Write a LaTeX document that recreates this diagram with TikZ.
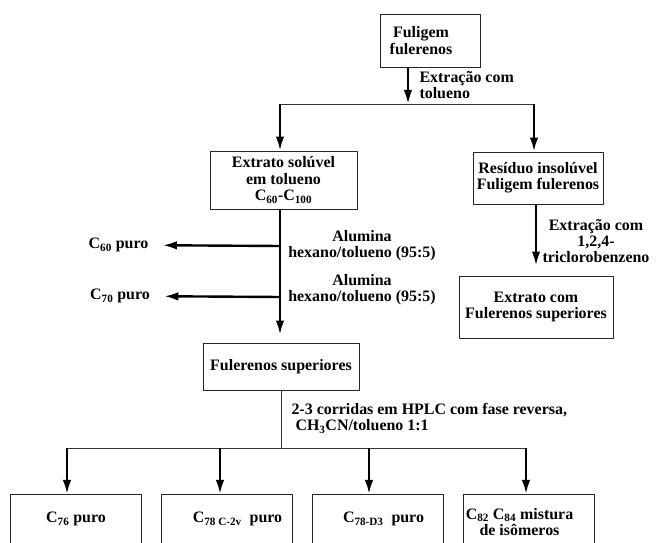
\documentclass[tikz,border=0pt]{standalone}
\usepackage{fontspec}
\setmainfont{Liberation Serif}
\usetikzlibrary{arrows.meta}
\begin{document}
\begin{tikzpicture}[>={Latex[length=14bp,width=8.5bp]},line join=bevel,
  every node/.style={font=\bfseries\fontsize{16}{16.5}\selectfont,align=center},
  procbox/.style={draw=black!85,line width=0.9bp,inner sep=0bp},
  endbox/.style={procbox,anchor=north,minimum width=131bp,inner ysep=0bp},
  heavy/.style={black,line width=2.4bp},
  thinline/.style={black!80,line width=0.9bp},]
\useasboundingbox (0bp,0bp) rectangle (656bp,543bp);
%%
\node (node_0) at (430bp,502.5bp) [procbox,minimum width=100bp,minimum height=53bp] {Fuligem\hspace*{18bp}\\fulerenos\hspace*{18bp}};
  \node (node_1) at (283.5bp,363bp) [procbox,minimum width=147bp,minimum height=58bp] {Extrato solúvel\\em tolueno\\C\textsubscript{60}-C\textsubscript{100}};
  \node (node_2) at (538bp,365bp) [procbox,minimum width=130bp,minimum height=52bp] {Resíduo insolúvel\\Fuligem fulerenos};
  \node (node_3) at (536bp,236bp) [procbox,minimum width=154bp,minimum height=62bp] {Extrato com\\Fulerenos superiores};
  \node (node_4) at (281bp,176.5bp) [procbox,minimum width=156bp,minimum height=47bp] {Fulerenos superiores};
  \node (node_5) at (76bp,49bp) [endbox,text height=28bp,text depth=38bp] {C\textsubscript{76} puro};
  \node (node_6) at (226.5bp,49bp) [endbox,text height=28bp,text depth=38bp] {\hspace*{22bp}C\textsubscript{78 C-2v}\ \ puro};
  \node (node_7) at (377.5bp,49bp) [endbox,text height=28bp,text depth=38bp] {\hspace*{12bp}C\textsubscript{78-D3}\ \ puro};
  \node (node_8) at (528.5bp,49bp) [endbox,text height=41bp,text depth=25bp] {C\textsubscript{82} C\textsubscript{84} mistura\hspace*{18bp}\\de isômeros\hspace*{18bp}};
  \node (c60) at (118.5bp,298bp) [draw=none] {C\textsubscript{60} puro};
  \node (c70) at (120bp,247bp) [draw=none] {C\textsubscript{70} puro};
%
  \node (lbl_0) at (416bp,458bp) [anchor=west,align=left] {Extração com\\tolueno};
  \node (lbl_1) at (362bp,297.5bp) [draw=none] {Alumina\\hexano/tolueno (95:5)};
  \node (lbl_2) at (362bp,253.5bp) [draw=none] {Alumina\\hexano/tolueno (95:5)};
  \node (lbl_3) at (596bp,302bp) [draw=none] {Extração com\\1,2,4-\\triclorobenzeno};
  \node (lbl_4) at (288bp,124.5bp) [anchor=west,align=left] {2-3 corridas em HPLC com fase reversa,\\\ CH\textsubscript{3}CN/tolueno 1:1};
%
  \coordinate (split_0) at (408bp,439bp);
  \coordinate (split_1) at (280bp,439bp);
  \coordinate (split_2) at (534bp,439bp);
  \coordinate (branch_0) at (280bp,297bp);
  \coordinate (branch_1) at (280bp,246bp);
  \coordinate (split_3) at (281bp,95bp);
  \coordinate (tap_0) at (67bp,95bp);
  \coordinate (tap_1) at (220bp,95bp);
  \coordinate (tap_2) at (369bp,95bp);
  \coordinate (tap_3) at (526bp,95bp);
%
  \draw [heavy,->] (node_0.south -| split_0) -- (split_0);
  \draw [thinline] (split_1) -- (split_2);
  \draw [heavy,->] (split_1) -- (split_1 |- node_1.north);
  \draw [heavy,->] (split_2) -- (split_2 |- node_2.north);
  \draw [heavy,->,shorten >=10bp] (node_3.north |- node_2.south) -- (node_3.north);
  \draw [heavy,->,shorten >=8bp] (split_1 |- node_1.south) -- (split_1 |- node_4.north);
  \draw [heavy,->,shorten >=11bp] (branch_0) -- (c60);
  \draw [heavy,->,shorten >=11bp] (branch_1) -- (c70);
  \draw [thinline] (node_4.south) -- (split_3);
  \draw [thinline] (tap_0) -- (tap_3);
  \draw [heavy,->] (tap_0) -- (tap_0 |- node_5.north);
  \draw [heavy,->] (tap_1) -- (tap_1 |- node_6.north);
  \draw [heavy,->] (tap_2) -- (tap_2 |- node_7.north);
  \draw [heavy,->] (tap_3) -- (tap_3 |- node_8.north);
%
\end{tikzpicture}
\end{document}
